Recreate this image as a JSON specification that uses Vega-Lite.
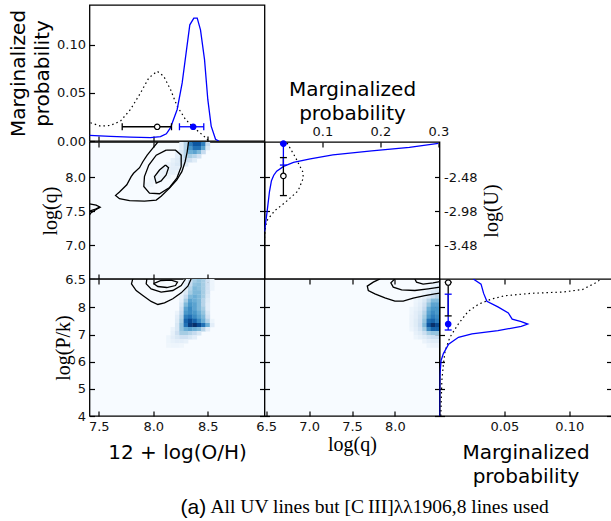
{
 "$schema": "https://vega.github.io/schema/vega-lite/v6.json",
 "background": "white",
 "padding": {"left": 7.5, "top": 4, "right": 0, "bottom": 2},
 "columns": 3,
 "spacing": 0,
 "bounds": "flush",
 "align": "all",
 "datasets": {
  "m_oh": [
   {"oh":7.415,"p":0.0059,"s":"b"},{"oh":7.607,"p":0.0048,"s":"b"},{"oh":7.791,"p":0.0040,"s":"b"},{"oh":7.974,"p":0.0035,"s":"b"},{"oh":8.066,"p":0.0045,"s":"b"},{"oh":8.12,"p":0.0075,"s":"b"},{"oh":8.158,"p":0.0139,"s":"b"},{"oh":8.219,"p":0.0328,"s":"b"},{"oh":8.265,"p":0.0604,"s":"b"},{"oh":8.305,"p":0.095,"s":"b"},{"oh":8.335,"p":0.1208,"s":"b"},{"oh":8.372,"p":0.1277,"s":"b"},{"oh":8.403,"p":0.1277,"s":"b"},{"oh":8.433,"p":0.1156,"s":"b"},{"oh":8.470,"p":0.0846,"s":"b"},{"oh":8.500,"p":0.0432,"s":"b"},{"oh":8.531,"p":0.0155,"s":"b"},{"oh":8.571,"p":0.0018,"s":"b"},{"oh":8.601,"p":0.0,"s":"b"},
   {"oh":7.424,"p":0.019,"s":"k"},{"oh":7.516,"p":0.0155,"s":"k"},{"oh":7.607,"p":0.0162,"s":"k"},{"oh":7.699,"p":0.0207,"s":"k"},{"oh":7.791,"p":0.0328,"s":"k"},{"oh":7.883,"p":0.050,"s":"k"},{"oh":7.959,"p":0.0656,"s":"k"},{"oh":8.036,"p":0.0725,"s":"k"},{"oh":8.096,"p":0.0673,"s":"k"},{"oh":8.158,"p":0.0535,"s":"k"},{"oh":8.219,"p":0.0362,"s":"k"},{"oh":8.295,"p":0.0225,"s":"k"},{"oh":8.372,"p":0.0139,"s":"k"},{"oh":8.463,"p":0.0052,"s":"k"},{"oh":8.509,"p":0.0,"s":"k"}
  ],
  "m_q": [
   {"q":7.2,"p":0,"s":"b"},{"q":7.31,"p":0.0017,"s":"b"},{"q":7.5,"p":0.0046,"s":"b"},{"q":7.79,"p":0.0086,"s":"b"},{"q":7.95,"p":0.012,"s":"b"},{"q":8.03,"p":0.016,"s":"b"},{"q":8.09,"p":0.021,"s":"b"},{"q":8.16,"p":0.033,"s":"b"},{"q":8.22,"p":0.05,"s":"b"},{"q":8.27,"p":0.079,"s":"b"},{"q":8.33,"p":0.118,"s":"b"},{"q":8.39,"p":0.185,"s":"b"},{"q":8.44,"p":0.25,"s":"b"},{"q":8.5,"p":0.30,"s":"b"},
   {"q":7.1,"p":0,"s":"k"},{"q":7.28,"p":0.0017,"s":"k"},{"q":7.38,"p":0.0057,"s":"k"},{"q":7.51,"p":0.018,"s":"k"},{"q":7.63,"p":0.036,"s":"k"},{"q":7.8,"p":0.058,"s":"k"},{"q":7.99,"p":0.067,"s":"k"},{"q":8.08,"p":0.066,"s":"k"},{"q":8.3,"p":0.053,"s":"k"},{"q":8.52,"p":0.038,"s":"k"}
  ],
  "m_pk": [
   {"pk":4.0,"p":0,"s":"b"},{"pk":5.5,"p":0.0003,"s":"b"},{"pk":6.04,"p":0.0012,"s":"b"},{"pk":6.3,"p":0.003,"s":"b"},{"pk":6.65,"p":0.007,"s":"b"},{"pk":6.9,"p":0.0146,"s":"b"},{"pk":7.03,"p":0.025,"s":"b"},{"pk":7.15,"p":0.045,"s":"b"},{"pk":7.3,"p":0.063,"s":"b"},{"pk":7.39,"p":0.068,"s":"b"},{"pk":7.48,"p":0.063,"s":"b"},{"pk":7.57,"p":0.056,"s":"b"},{"pk":7.8,"p":0.053,"s":"b"},{"pk":8.02,"p":0.045,"s":"b"},{"pk":8.23,"p":0.0365,"s":"b"},{"pk":8.52,"p":0.034,"s":"b"},{"pk":8.86,"p":0.032,"s":"b"},{"pk":9.05,"p":0.026,"s":"b"},
   {"pk":4.0,"p":0.001,"s":"k"},{"pk":5.3,"p":0.0018,"s":"k"},{"pk":5.9,"p":0.003,"s":"k"},{"pk":6.4,"p":0.0043,"s":"k"},{"pk":6.9,"p":0.008,"s":"k"},{"pk":7.4,"p":0.0146,"s":"k"},{"pk":7.85,"p":0.022,"s":"k"},{"pk":8.12,"p":0.03,"s":"k"},{"pk":8.31,"p":0.04,"s":"k"},{"pk":8.43,"p":0.05,"s":"k"},{"pk":8.52,"p":0.07,"s":"k"},{"pk":8.57,"p":0.095,"s":"k"},{"pk":8.66,"p":0.11,"s":"k"},{"pk":8.9,"p":0.12,"s":"k"},{"pk":9.03,"p":0.124,"s":"k"}
  ],
  "err": [
   {"pnl":"oh","s":"k","lo":7.715,"mid":8.036,"hi":8.167,"at":0.0148},
   {"pnl":"oh","s":"b","lo":8.24,"mid":8.366,"hi":8.463,"at":0.0148},
   {"pnl":"q","s":"k","lo":7.73,"mid":8.02,"hi":8.29,"at":0.0326},
   {"pnl":"q","s":"b","lo":8.18,"mid":8.496,"hi":8.496,"at":0.0326},
   {"pnl":"pk","s":"k","lo":7.69,"mid":8.92,"hi":8.93,"at":0.0067},
   {"pnl":"pk","s":"b","lo":7.17,"mid":7.39,"hi":8.49,"at":0.0067}
  ],
  "h_ohq": [
   {"oh":8.26,"q":8.49,"v":0.1},{"oh":8.30,"q":8.49,"v":0.3},{"oh":8.34,"q":8.49,"v":0.7},{"oh":8.38,"q":8.49,"v":0.85},{"oh":8.42,"q":8.49,"v":0.85},{"oh":8.46,"q":8.49,"v":0.7},{"oh":8.50,"q":8.49,"v":0.25},
   {"oh":8.26,"q":8.43,"v":0.1},{"oh":8.30,"q":8.43,"v":0.3},{"oh":8.34,"q":8.43,"v":0.6},{"oh":8.38,"q":8.43,"v":0.75},{"oh":8.42,"q":8.43,"v":0.75},{"oh":8.46,"q":8.43,"v":0.55},{"oh":8.50,"q":8.43,"v":0.15},
   {"oh":8.22,"q":8.37,"v":0.08},{"oh":8.26,"q":8.37,"v":0.15},{"oh":8.30,"q":8.37,"v":0.3},{"oh":8.34,"q":8.37,"v":0.5},{"oh":8.38,"q":8.37,"v":0.55},{"oh":8.42,"q":8.37,"v":0.45},{"oh":8.46,"q":8.37,"v":0.25},
   {"oh":8.22,"q":8.31,"v":0.1},{"oh":8.26,"q":8.31,"v":0.15},{"oh":8.30,"q":8.31,"v":0.3},{"oh":8.34,"q":8.31,"v":0.35},{"oh":8.38,"q":8.31,"v":0.3},{"oh":8.42,"q":8.31,"v":0.2},
   {"oh":8.18,"q":8.25,"v":0.08},{"oh":8.22,"q":8.25,"v":0.12},{"oh":8.26,"q":8.25,"v":0.18},{"oh":8.30,"q":8.25,"v":0.22},{"oh":8.34,"q":8.25,"v":0.2},{"oh":8.38,"q":8.25,"v":0.12},
   {"oh":8.14,"q":8.19,"v":0.06},{"oh":8.18,"q":8.19,"v":0.1},{"oh":8.22,"q":8.19,"v":0.14},{"oh":8.26,"q":8.19,"v":0.15},{"oh":8.30,"q":8.19,"v":0.12},
   {"oh":8.10,"q":8.13,"v":0.06},{"oh":8.14,"q":8.13,"v":0.08},{"oh":8.18,"q":8.13,"v":0.1},{"oh":8.22,"q":8.13,"v":0.1},{"oh":8.26,"q":8.13,"v":0.08},
   {"oh":8.06,"q":8.07,"v":0.05},{"oh":8.10,"q":8.07,"v":0.07},{"oh":8.14,"q":8.07,"v":0.08},{"oh":8.18,"q":8.07,"v":0.08},{"oh":8.22,"q":8.07,"v":0.05},
   {"oh":8.02,"q":8.01,"v":0.05},{"oh":8.06,"q":8.01,"v":0.06},{"oh":8.10,"q":8.01,"v":0.06},{"oh":8.14,"q":8.01,"v":0.05},
   {"oh":7.98,"q":7.95,"v":0.04},{"oh":8.02,"q":7.95,"v":0.05},{"oh":8.06,"q":7.95,"v":0.05},
   {"oh":7.94,"q":7.89,"v":0.04},{"oh":7.98,"q":7.89,"v":0.04}
  ],
  "h_ohpk": [
   {"oh":8.30,"pk":9.0,"v":0.05},{"oh":8.34,"pk":9.0,"v":0.2},{"oh":8.38,"pk":9.0,"v":0.35},{"oh":8.42,"pk":9.0,"v":0.4},{"oh":8.46,"pk":9.0,"v":0.35},{"oh":8.50,"pk":9.0,"v":0.2},{"oh":8.54,"pk":9.0,"v":0.05},
   {"oh":8.30,"pk":8.85,"v":0.08},{"oh":8.34,"pk":8.85,"v":0.25},{"oh":8.38,"pk":8.85,"v":0.4},{"oh":8.42,"pk":8.85,"v":0.42},{"oh":8.46,"pk":8.85,"v":0.35},{"oh":8.50,"pk":8.85,"v":0.2},{"oh":8.54,"pk":8.85,"v":0.05},
   {"oh":8.30,"pk":8.7,"v":0.1},{"oh":8.34,"pk":8.7,"v":0.3},{"oh":8.38,"pk":8.7,"v":0.45},{"oh":8.42,"pk":8.7,"v":0.42},{"oh":8.46,"pk":8.7,"v":0.35},{"oh":8.50,"pk":8.7,"v":0.2},{"oh":8.54,"pk":8.7,"v":0.05},
   {"oh":8.26,"pk":8.55,"v":0.05},{"oh":8.30,"pk":8.55,"v":0.15},{"oh":8.34,"pk":8.55,"v":0.35},{"oh":8.38,"pk":8.55,"v":0.45},{"oh":8.42,"pk":8.55,"v":0.45},{"oh":8.46,"pk":8.55,"v":0.35},{"oh":8.50,"pk":8.55,"v":0.18},
   {"oh":8.26,"pk":8.4,"v":0.08},{"oh":8.30,"pk":8.4,"v":0.25},{"oh":8.34,"pk":8.4,"v":0.45},{"oh":8.38,"pk":8.4,"v":0.5},{"oh":8.42,"pk":8.4,"v":0.45},{"oh":8.46,"pk":8.4,"v":0.35},{"oh":8.50,"pk":8.4,"v":0.15},
   {"oh":8.26,"pk":8.25,"v":0.1},{"oh":8.30,"pk":8.25,"v":0.35},{"oh":8.34,"pk":8.25,"v":0.55},{"oh":8.38,"pk":8.25,"v":0.5},{"oh":8.42,"pk":8.25,"v":0.45},{"oh":8.46,"pk":8.25,"v":0.3},{"oh":8.50,"pk":8.25,"v":0.12},
   {"oh":8.26,"pk":8.1,"v":0.15},{"oh":8.30,"pk":8.1,"v":0.45},{"oh":8.34,"pk":8.1,"v":0.6},{"oh":8.38,"pk":8.1,"v":0.55},{"oh":8.42,"pk":8.1,"v":0.45},{"oh":8.46,"pk":8.1,"v":0.3},{"oh":8.50,"pk":8.1,"v":0.1},
   {"oh":8.26,"pk":7.95,"v":0.2},{"oh":8.30,"pk":7.95,"v":0.55},{"oh":8.34,"pk":7.95,"v":0.65},{"oh":8.38,"pk":7.95,"v":0.55},{"oh":8.42,"pk":7.95,"v":0.45},{"oh":8.46,"pk":7.95,"v":0.35},{"oh":8.50,"pk":7.95,"v":0.1},
   {"oh":8.22,"pk":7.8,"v":0.06},{"oh":8.26,"pk":7.8,"v":0.25},{"oh":8.30,"pk":7.8,"v":0.6},{"oh":8.34,"pk":7.8,"v":0.65},{"oh":8.38,"pk":7.8,"v":0.6},{"oh":8.42,"pk":7.8,"v":0.5},{"oh":8.46,"pk":7.8,"v":0.4},{"oh":8.50,"pk":7.8,"v":0.15},
   {"oh":8.22,"pk":7.65,"v":0.1},{"oh":8.26,"pk":7.65,"v":0.3},{"oh":8.30,"pk":7.65,"v":0.7},{"oh":8.34,"pk":7.65,"v":0.75},{"oh":8.38,"pk":7.65,"v":0.65},{"oh":8.42,"pk":7.65,"v":0.55},{"oh":8.46,"pk":7.65,"v":0.45},{"oh":8.50,"pk":7.65,"v":0.2},
   {"oh":8.22,"pk":7.5,"v":0.12},{"oh":8.26,"pk":7.5,"v":0.35},{"oh":8.30,"pk":7.5,"v":0.8},{"oh":8.34,"pk":7.5,"v":0.9},{"oh":8.38,"pk":7.5,"v":0.8},{"oh":8.42,"pk":7.5,"v":0.65},{"oh":8.46,"pk":7.5,"v":0.5},{"oh":8.50,"pk":7.5,"v":0.3},{"oh":8.54,"pk":7.5,"v":0.05},
   {"oh":8.22,"pk":7.35,"v":0.15},{"oh":8.26,"pk":7.35,"v":0.4},{"oh":8.30,"pk":7.35,"v":0.75},{"oh":8.34,"pk":7.35,"v":0.95},{"oh":8.38,"pk":7.35,"v":1.0},{"oh":8.42,"pk":7.35,"v":0.9},{"oh":8.46,"pk":7.35,"v":0.75},{"oh":8.50,"pk":7.35,"v":0.5},{"oh":8.54,"pk":7.35,"v":0.1},
   {"oh":8.18,"pk":7.2,"v":0.06},{"oh":8.22,"pk":7.2,"v":0.15},{"oh":8.26,"pk":7.2,"v":0.4},{"oh":8.30,"pk":7.2,"v":0.5},{"oh":8.34,"pk":7.2,"v":0.55},{"oh":8.38,"pk":7.2,"v":0.5},{"oh":8.42,"pk":7.2,"v":0.45},{"oh":8.46,"pk":7.2,"v":0.3},{"oh":8.50,"pk":7.2,"v":0.1},
   {"oh":8.18,"pk":7.05,"v":0.08},{"oh":8.22,"pk":7.05,"v":0.2},{"oh":8.26,"pk":7.05,"v":0.35},{"oh":8.30,"pk":7.05,"v":0.35},{"oh":8.34,"pk":7.05,"v":0.3},{"oh":8.38,"pk":7.05,"v":0.25},{"oh":8.42,"pk":7.05,"v":0.15},
   {"oh":8.14,"pk":6.9,"v":0.05},{"oh":8.18,"pk":6.9,"v":0.1},{"oh":8.22,"pk":6.9,"v":0.15},{"oh":8.26,"pk":6.9,"v":0.2},{"oh":8.30,"pk":6.9,"v":0.2},{"oh":8.34,"pk":6.9,"v":0.15},{"oh":8.38,"pk":6.9,"v":0.1},
   {"oh":8.14,"pk":6.75,"v":0.05},{"oh":8.18,"pk":6.75,"v":0.08},{"oh":8.22,"pk":6.75,"v":0.1},{"oh":8.26,"pk":6.75,"v":0.1},{"oh":8.30,"pk":6.75,"v":0.08},
   {"oh":8.14,"pk":6.6,"v":0.04},{"oh":8.18,"pk":6.6,"v":0.05},{"oh":8.22,"pk":6.6,"v":0.05},{"oh":8.26,"pk":6.6,"v":0.04}
  ],
  "h_qpk": [
   {"q":8.445,"pk":8.85,"v":0.05},{"q":8.495,"pk":8.85,"v":0.08},
   {"q":8.395,"pk":8.7,"v":0.05},{"q":8.445,"pk":8.7,"v":0.08},{"q":8.495,"pk":8.7,"v":0.12},
   {"q":8.345,"pk":8.55,"v":0.05},{"q":8.395,"pk":8.55,"v":0.08},{"q":8.445,"pk":8.55,"v":0.15},{"q":8.495,"pk":8.55,"v":0.18},
   {"q":8.295,"pk":8.4,"v":0.05},{"q":8.345,"pk":8.4,"v":0.08},{"q":8.395,"pk":8.4,"v":0.15},{"q":8.445,"pk":8.4,"v":0.25},{"q":8.495,"pk":8.4,"v":0.3},
   {"q":8.245,"pk":8.25,"v":0.05},{"q":8.295,"pk":8.25,"v":0.08},{"q":8.345,"pk":8.25,"v":0.15},{"q":8.395,"pk":8.25,"v":0.3},{"q":8.445,"pk":8.25,"v":0.45},{"q":8.495,"pk":8.25,"v":0.45},
   {"q":8.245,"pk":8.1,"v":0.06},{"q":8.295,"pk":8.1,"v":0.1},{"q":8.345,"pk":8.1,"v":0.2},{"q":8.395,"pk":8.1,"v":0.4},{"q":8.445,"pk":8.1,"v":0.55},{"q":8.495,"pk":8.1,"v":0.55},
   {"q":8.195,"pk":7.95,"v":0.05},{"q":8.245,"pk":7.95,"v":0.08},{"q":8.295,"pk":7.95,"v":0.12},{"q":8.345,"pk":7.95,"v":0.25},{"q":8.395,"pk":7.95,"v":0.5},{"q":8.445,"pk":7.95,"v":0.6},{"q":8.495,"pk":7.95,"v":0.6},
   {"q":8.195,"pk":7.8,"v":0.05},{"q":8.245,"pk":7.8,"v":0.1},{"q":8.295,"pk":7.8,"v":0.15},{"q":8.345,"pk":7.8,"v":0.3},{"q":8.395,"pk":7.8,"v":0.55},{"q":8.445,"pk":7.8,"v":0.65},{"q":8.495,"pk":7.8,"v":0.6},
   {"q":8.195,"pk":7.65,"v":0.06},{"q":8.245,"pk":7.65,"v":0.1},{"q":8.295,"pk":7.65,"v":0.18},{"q":8.345,"pk":7.65,"v":0.35},{"q":8.395,"pk":7.65,"v":0.6},{"q":8.445,"pk":7.65,"v":0.7},{"q":8.495,"pk":7.65,"v":0.65},
   {"q":8.195,"pk":7.5,"v":0.06},{"q":8.245,"pk":7.5,"v":0.12},{"q":8.295,"pk":7.5,"v":0.2},{"q":8.345,"pk":7.5,"v":0.4},{"q":8.395,"pk":7.5,"v":0.75},{"q":8.445,"pk":7.5,"v":0.8},{"q":8.495,"pk":7.5,"v":0.7},
   {"q":8.195,"pk":7.35,"v":0.06},{"q":8.245,"pk":7.35,"v":0.12},{"q":8.295,"pk":7.35,"v":0.22},{"q":8.345,"pk":7.35,"v":0.45},{"q":8.395,"pk":7.35,"v":0.85},{"q":8.445,"pk":7.35,"v":1.0},{"q":8.495,"pk":7.35,"v":0.9},
   {"q":8.195,"pk":7.2,"v":0.05},{"q":8.245,"pk":7.2,"v":0.1},{"q":8.295,"pk":7.2,"v":0.18},{"q":8.345,"pk":7.2,"v":0.35},{"q":8.395,"pk":7.2,"v":0.65},{"q":8.445,"pk":7.2,"v":0.8},{"q":8.495,"pk":7.2,"v":0.8},
   {"q":8.245,"pk":7.05,"v":0.08},{"q":8.295,"pk":7.05,"v":0.12},{"q":8.345,"pk":7.05,"v":0.22},{"q":8.395,"pk":7.05,"v":0.35},{"q":8.445,"pk":7.05,"v":0.4},{"q":8.495,"pk":7.05,"v":0.4},
   {"q":8.245,"pk":6.9,"v":0.05},{"q":8.295,"pk":6.9,"v":0.08},{"q":8.345,"pk":6.9,"v":0.12},{"q":8.395,"pk":6.9,"v":0.18},{"q":8.445,"pk":6.9,"v":0.22},{"q":8.495,"pk":6.9,"v":0.22},
   {"q":8.345,"pk":6.75,"v":0.06},{"q":8.395,"pk":6.75,"v":0.1},{"q":8.445,"pk":6.75,"v":0.12},{"q":8.495,"pk":6.75,"v":0.12},
   {"q":8.395,"pk":6.6,"v":0.05},{"q":8.445,"pk":6.6,"v":0.06},{"q":8.495,"pk":6.6,"v":0.06}
  ],
  "c_ohq": [
   {"c":"1","oh":8.042,"q":8.52},{"c":"1","oh":7.992,"q":8.423},{"c":"1","oh":7.944,"q":8.326},{"c":"1","oh":7.904,"q":8.229},{"c":"1","oh":7.874,"q":8.141},{"c":"1","oh":7.819,"q":8.059},{"c":"1","oh":7.797,"q":8.010},{"c":"1","oh":7.757,"q":7.889},{"c":"1","oh":7.690,"q":7.782},{"c":"1","oh":7.654,"q":7.733},{"c":"1","oh":7.690,"q":7.684},{"c":"1","oh":7.782,"q":7.655},{"c":"1","oh":7.919,"q":7.648},{"c":"1","oh":8.027,"q":7.663},{"c":"1","oh":8.072,"q":7.719},{"c":"1","oh":8.149,"q":7.840},{"c":"1","oh":8.216,"q":7.962},{"c":"1","oh":8.262,"q":8.083},{"c":"1","oh":8.292,"q":8.229},{"c":"1","oh":8.311,"q":8.375},{"c":"1","oh":8.323,"q":8.52},
   {"c":"2","oh":8.118,"q":8.399},{"c":"2","oh":8.027,"q":8.326},{"c":"2","oh":7.959,"q":8.180},{"c":"2","oh":7.919,"q":8.010},{"c":"2","oh":7.913,"q":7.864},{"c":"2","oh":7.965,"q":7.767},{"c":"2","oh":8.057,"q":7.757},{"c":"2","oh":8.149,"q":7.850},{"c":"2","oh":8.216,"q":7.986},{"c":"2","oh":8.256,"q":8.156},{"c":"2","oh":8.256,"q":8.326},{"c":"2","oh":8.204,"q":8.399},{"c":"2","oh":8.118,"q":8.399},
   {"c":"3","oh":8.112,"q":8.180},{"c":"3","oh":8.057,"q":8.107},{"c":"3","oh":8.011,"q":8.010},{"c":"3","oh":8.027,"q":7.913},{"c":"3","oh":8.072,"q":7.947},{"c":"3","oh":8.118,"q":8.035},{"c":"3","oh":8.140,"q":8.141},{"c":"3","oh":8.112,"q":8.180},
   {"c":"4","oh":7.415,"q":7.607},{"c":"4","oh":7.476,"q":7.588},{"c":"4","oh":7.513,"q":7.559},{"c":"4","oh":7.476,"q":7.525},{"c":"4","oh":7.430,"q":7.477},{"c":"4","oh":7.415,"q":7.444},
   {"c":"5","oh":7.415,"q":7.50},{"c":"5","oh":7.47,"q":7.53},{"c":"5","oh":7.51,"q":7.56}
  ],
  "c_ohpk": [
   {"c":"1","oh":7.812,"pk":9.055},{"c":"1","oh":7.800,"pk":8.871},{"c":"1","oh":7.843,"pk":8.626},{"c":"1","oh":7.904,"pk":8.442},{"c":"1","oh":7.980,"pk":8.222},{"c":"1","oh":8.042,"pk":8.111},{"c":"1","oh":8.103,"pk":8.173},{"c":"1","oh":8.179,"pk":8.320},{"c":"1","oh":8.256,"pk":8.540},{"c":"1","oh":8.317,"pk":8.786},{"c":"1","oh":8.347,"pk":9.055},
   {"c":"2","oh":7.941,"pk":9.055},{"c":"2","oh":7.935,"pk":8.871},{"c":"2","oh":7.980,"pk":8.687},{"c":"2","oh":8.072,"pk":8.565},{"c":"2","oh":8.179,"pk":8.626},{"c":"2","oh":8.256,"pk":8.810},{"c":"2","oh":8.286,"pk":8.994},{"c":"2","oh":8.295,"pk":9.055},
   {"c":"3","oh":8.002,"pk":8.883},{"c":"3","oh":8.042,"pk":8.773},{"c":"3","oh":8.124,"pk":8.736},{"c":"3","oh":8.204,"pk":8.810},{"c":"3","oh":8.222,"pk":8.933},{"c":"3","oh":8.164,"pk":9.006},{"c":"3","oh":8.072,"pk":8.994},{"c":"3","oh":8.002,"pk":8.883}
  ],
  "c_qpk": [
   {"c":"1","q":7.826,"pk":9.055},{"c":"1","q":7.748,"pk":8.933},{"c":"1","q":7.678,"pk":8.786},{"c":"1","q":7.690,"pk":8.626},{"c":"1","q":7.767,"pk":8.504},{"c":"1","q":7.884,"pk":8.357},{"c":"1","q":8.0,"pk":8.235},{"c":"1","q":8.097,"pk":8.235},{"c":"1","q":8.213,"pk":8.346},{"c":"1","q":8.349,"pk":8.441},{"c":"1","q":8.465,"pk":8.504},{"c":"1","q":8.523,"pk":8.529},
   {"c":"2","q":8.0,"pk":9.055},{"c":"2","q":7.953,"pk":8.908},{"c":"2","q":7.981,"pk":8.750},{"c":"2","q":8.078,"pk":8.651},{"c":"2","q":8.233,"pk":8.626},{"c":"2","q":8.388,"pk":8.688},{"c":"2","q":8.523,"pk":8.750},
   {"c":"3","q":8.233,"pk":9.055},{"c":"3","q":8.252,"pk":8.933},{"c":"3","q":8.329,"pk":8.860},{"c":"3","q":8.445,"pk":8.908},{"c":"3","q":8.523,"pk":8.956}
  ]
 },
 "concat": [
  {
   "width": 175, "height": 136,
   "layer": [
    {"data": {"name": "m_oh"}, "transform": [{"filter": "datum.s == 'k'"}],
     "mark": {"type": "line", "color": "black", "strokeWidth": 1.2, "strokeDash": [1.5, 3], "clip": true},
     "encoding": {
      "x": {"field": "oh", "type": "quantitative", "scale": {"domain": [7.415, 9.02], "nice": false, "zero": false}, "axis": {"orient": "bottom", "values": [7.5, 8, 8.5], "labels": false, "title": null}},
      "y": {"field": "p", "type": "quantitative", "scale": {"domain": [0, 0.1414], "nice": false}, "axis": {"orient": "left", "values": [0, 0.05, 0.1], "format": ".2f", "title": ["Marginalized", "probability"], "titleLineHeight": 24}},
      "order": {"value": null}}},
    {"data": {"name": "m_oh"}, "transform": [{"filter": "datum.s == 'b'"}],
     "mark": {"type": "line", "color": "blue", "strokeWidth": 1.3, "clip": true},
     "encoding": {"x": {"field": "oh", "type": "quantitative", "axis": null}, "y": {"field": "p", "type": "quantitative", "axis": null}, "order": {"value": null}}},
    {"data": {"name": "err"}, "transform": [{"filter": "datum.pnl == 'oh'"}],
     "mark": {"type": "rule", "strokeWidth": 1.3},
     "encoding": {"x": {"field": "lo", "type": "quantitative", "axis": null}, "x2": {"field": "hi"}, "y": {"field": "at", "type": "quantitative", "axis": null},
      "color": {"condition": {"test": "datum.s == 'b'", "value": "blue"}, "value": "black"}}},
    {"data": {"name": "err"}, "transform": [{"filter": "datum.pnl == 'oh'"}, {"fold": ["lo", "hi"], "as": ["end", "val"]}],
     "mark": {"type": "point", "shape": "M0,-1L0,1", "size": 49, "strokeWidth": 1.3, "opacity": 1},
     "encoding": {"x": {"field": "val", "type": "quantitative", "axis": null}, "y": {"field": "at", "type": "quantitative", "axis": null},
      "color": {"condition": {"test": "datum.s == 'b'", "value": "blue"}, "value": "black"}}},
    {"data": {"name": "err"}, "transform": [{"filter": "datum.pnl == 'oh'"}],
     "mark": {"type": "point", "filled": true, "size": 30, "strokeWidth": 1.2, "opacity": 1},
     "encoding": {"x": {"field": "mid", "type": "quantitative", "axis": null}, "y": {"field": "at", "type": "quantitative", "axis": null},
      "fill": {"condition": {"test": "datum.s == 'b'", "value": "blue"}, "value": "white"},
      "stroke": {"condition": {"test": "datum.s == 'b'", "value": "blue"}, "value": "black"}}}
   ],
   "resolve": {"axis": {"x": "independent", "y": "independent"}}
  },
  {"width": 175, "height": 136, "data": {"values": [{"a": 1}]}, "mark": {"type": "point", "opacity": 0}, "encoding": {}, "view": {"stroke": null}},
  {"width": 172, "height": 136, "data": {"values": [{"a": 1}]}, "mark": {"type": "point", "opacity": 0}, "encoding": {}, "view": {"stroke": null}},
  {
   "width": 175, "height": 137,
   "view": {"fill": "#f7fbff", "stroke": "black", "strokeWidth": 1.3},
   "layer": [
    {"data": {"name": "h_ohq"}, "mark": {"type": "rect", "width": 4.7, "height": 4.4, "clip": true},
     "encoding": {
      "x": {"field": "oh", "type": "quantitative", "scale": {"domain": [7.415, 9.02], "nice": false, "zero": false}, "axis": {"orient": "bottom", "values": [7.5, 8, 8.5], "labels": false, "title": null}},
      "y": {"field": "q", "type": "quantitative", "scale": {"domain": [6.5, 8.52], "nice": false, "zero": false}, "axis": {"orient": "left", "values": [6.5, 7, 7.5, 8], "format": ".1f", "title": "log(q)", "titleFont": "Liberation Serif", "titleFontSize": 20}},
      "color": {"field": "v", "type": "quantitative", "legend": null, "scale": {"type": "linear", "domain": [0, 0.125, 0.25, 0.375, 0.5, 0.625, 0.75, 0.875, 1], "range": ["#f7fbff", "#deebf7", "#c6dbef", "#9ecae1", "#6baed6", "#4292c6", "#2171b5", "#08519c", "#08306b"], "interpolate": "rgb", "zero": false, "nice": false}}}},
    {"data": {"name": "c_ohq"}, "mark": {"type": "line", "color": "black", "strokeWidth": 1.3, "clip": true},
     "encoding": {
      "x": {"field": "oh", "type": "quantitative", "axis": {"orient": "top", "values": [7.5, 8, 8.5], "labels": false, "title": null}},
      "y": {"field": "q", "type": "quantitative", "axis": {"orient": "right", "values": [6.5, 7, 7.5, 8], "labels": false, "title": null}},
      "detail": {"field": "c", "type": "nominal"}, "order": {"value": null}}}
   ],
   "resolve": {"axis": {"x": "independent", "y": "independent"}}
  },
  {
   "width": 175, "height": 137,
   "layer": [
    {"data": {"name": "m_q"}, "transform": [{"filter": "datum.s == 'k'"}],
     "mark": {"type": "line", "color": "black", "strokeWidth": 1.2, "strokeDash": [1.5, 3], "clip": true},
     "encoding": {
      "x": {"field": "p", "type": "quantitative", "scale": {"domain": [0, 0.302], "nice": false}, "axis": {"orient": "top", "values": [0.1, 0.2, 0.3], "format": ".1f", "title": ["Marginalized", "probability"], "titleLineHeight": 24, "titlePadding": 2}},
      "y": {"field": "q", "type": "quantitative", "scale": {"domain": [6.5, 8.52], "nice": false, "zero": false}, "axis": {"orient": "left", "values": [7, 7.5, 8], "labels": false, "title": null}},
      "order": {"value": null}}},
    {"data": {"name": "m_q"}, "transform": [{"filter": "datum.s == 'b'"}],
     "mark": {"type": "line", "color": "blue", "strokeWidth": 1.3, "clip": true},
     "encoding": {
      "x": {"field": "p", "type": "quantitative", "axis": null},
      "y": {"field": "q", "type": "quantitative", "axis": {"orient": "right", "values": [7, 7.5, 8], "labelExpr": "replace(format(datum.value - 10.48, '.2f'), '\u2212', '-')", "title": "log(U)", "titleFont": "Liberation Serif", "titleFontSize": 20, "titleAngle": 270, "titleBaseline": "top"}},
      "order": {"value": null}}},
    {"data": {"name": "err"}, "transform": [{"filter": "datum.pnl == 'q'"}],
     "mark": {"type": "rule", "strokeWidth": 1.3},
     "encoding": {"y": {"field": "lo", "type": "quantitative", "axis": null}, "y2": {"field": "hi"}, "x": {"field": "at", "type": "quantitative", "axis": null},
      "color": {"condition": {"test": "datum.s == 'b'", "value": "blue"}, "value": "black"}}},
    {"data": {"name": "err"}, "transform": [{"filter": "datum.pnl == 'q'"}, {"fold": ["lo", "hi"], "as": ["end", "val"]}],
     "mark": {"type": "point", "shape": "M-1,0L1,0", "size": 49, "strokeWidth": 1.3, "opacity": 1},
     "encoding": {"y": {"field": "val", "type": "quantitative", "axis": null}, "x": {"field": "at", "type": "quantitative", "axis": null},
      "color": {"condition": {"test": "datum.s == 'b'", "value": "blue"}, "value": "black"}}},
    {"data": {"name": "err"}, "transform": [{"filter": "datum.pnl == 'q'"}],
     "mark": {"type": "point", "filled": true, "size": 30, "strokeWidth": 1.2, "opacity": 1},
     "encoding": {"y": {"field": "mid", "type": "quantitative", "axis": null}, "x": {"field": "at", "type": "quantitative", "axis": null},
      "fill": {"condition": {"test": "datum.s == 'b'", "value": "blue"}, "value": "white"},
      "stroke": {"condition": {"test": "datum.s == 'b'", "value": "blue"}, "value": "black"}}}
   ],
   "resolve": {"axis": {"x": "independent", "y": "independent"}}
  },
  {"width": 172, "height": 137, "data": {"values": [{"a": 1}]}, "mark": {"type": "point", "opacity": 0}, "encoding": {}, "view": {"stroke": null}},
  {
   "width": 175, "height": 137,
   "view": {"fill": "#f7fbff", "stroke": "black", "strokeWidth": 1.3},
   "layer": [
    {"data": {"name": "h_ohpk"}, "mark": {"type": "rect", "width": 4.7, "height": 4.4, "clip": true},
     "encoding": {
      "x": {"field": "oh", "type": "quantitative", "scale": {"domain": [7.415, 9.02], "nice": false, "zero": false}, "axis": {"orient": "bottom", "values": [7.5, 8, 8.5], "format": ".1f", "title": "12 + log(O/H)", "titlePadding": 9}},
      "y": {"field": "pk", "type": "quantitative", "scale": {"domain": [4, 9.05], "nice": false, "zero": false}, "axis": {"orient": "left", "values": [4, 5, 6, 7, 8], "format": "d", "title": "log(P/k)", "titleFont": "Liberation Serif", "titleFontSize": 20}},
      "color": {"field": "v", "type": "quantitative", "legend": null, "scale": {"type": "linear", "domain": [0, 0.125, 0.25, 0.375, 0.5, 0.625, 0.75, 0.875, 1], "range": ["#f7fbff", "#deebf7", "#c6dbef", "#9ecae1", "#6baed6", "#4292c6", "#2171b5", "#08519c", "#08306b"], "interpolate": "rgb", "zero": false, "nice": false}}}},
    {"data": {"name": "c_ohpk"}, "mark": {"type": "line", "color": "black", "strokeWidth": 1.3, "clip": true},
     "encoding": {
      "x": {"field": "oh", "type": "quantitative", "axis": {"orient": "top", "values": [7.5, 8, 8.5], "labels": false, "title": null}},
      "y": {"field": "pk", "type": "quantitative", "axis": {"orient": "right", "values": [4, 5, 6, 7, 8], "labels": false, "title": null}},
      "detail": {"field": "c", "type": "nominal"}, "order": {"value": null}}}
   ],
   "resolve": {"axis": {"x": "independent", "y": "independent"}}
  },
  {
   "width": 175, "height": 137,
   "view": {"fill": "#f7fbff", "stroke": "black", "strokeWidth": 1.3},
   "layer": [
    {"data": {"name": "h_qpk"}, "mark": {"type": "rect", "width": 4.6, "height": 4.4, "clip": true},
     "encoding": {
      "x": {"field": "q", "type": "quantitative", "scale": {"domain": [6.48, 8.52], "nice": false, "zero": false}, "axis": {"orient": "bottom", "values": [6.5, 7, 7.5, 8], "format": ".1f", "title": "log(q)", "titleFont": "Liberation Serif", "titleFontSize": 20, "titlePadding": 1}},
      "y": {"field": "pk", "type": "quantitative", "scale": {"domain": [4, 9.05], "nice": false, "zero": false}, "axis": {"orient": "left", "values": [4, 5, 6, 7, 8], "labels": false, "title": null}},
      "color": {"field": "v", "type": "quantitative", "legend": null, "scale": {"type": "linear", "domain": [0, 0.125, 0.25, 0.375, 0.5, 0.625, 0.75, 0.875, 1], "range": ["#f7fbff", "#deebf7", "#c6dbef", "#9ecae1", "#6baed6", "#4292c6", "#2171b5", "#08519c", "#08306b"], "interpolate": "rgb", "zero": false, "nice": false}}}},
    {"data": {"name": "c_qpk"}, "mark": {"type": "line", "color": "black", "strokeWidth": 1.3, "clip": true},
     "encoding": {
      "x": {"field": "q", "type": "quantitative", "axis": {"orient": "top", "values": [7, 7.5, 8], "labels": false, "title": null}},
      "y": {"field": "pk", "type": "quantitative", "axis": {"orient": "right", "values": [4, 5, 6, 7, 8], "labels": false, "title": null}},
      "detail": {"field": "c", "type": "nominal"}, "order": {"value": null}}}
   ],
   "resolve": {"axis": {"x": "independent", "y": "independent"}}
  },
  {
   "width": 172, "height": 137,
   "layer": [
    {"data": {"name": "m_pk"}, "transform": [{"filter": "datum.s == 'k'"}],
     "mark": {"type": "line", "color": "black", "strokeWidth": 1.2, "strokeDash": [1.5, 3], "clip": true},
     "encoding": {
      "x": {"field": "p", "type": "quantitative", "scale": {"domain": [0, 0.1325], "nice": false}, "axis": {"orient": "bottom", "values": [0.05, 0.1], "format": ".2f", "title": ["Marginalized", "probability"], "titleLineHeight": 24, "titlePadding": 9}},
      "y": {"field": "pk", "type": "quantitative", "scale": {"domain": [4, 9.05], "nice": false, "zero": false}, "axis": {"orient": "left", "values": [4, 5, 6, 7, 8], "labels": false, "title": null}},
      "order": {"value": null}}},
    {"data": {"name": "m_pk"}, "transform": [{"filter": "datum.s == 'b'"}],
     "mark": {"type": "line", "color": "blue", "strokeWidth": 1.3, "clip": true},
     "encoding": {
      "x": {"field": "p", "type": "quantitative", "axis": {"orient": "top", "values": [0.05, 0.1], "labels": false, "title": null}},
      "y": {"field": "pk", "type": "quantitative", "axis": {"orient": "right", "values": [4, 5, 6, 7, 8], "labels": false, "title": null}},
      "order": {"value": null}}},
    {"data": {"name": "err"}, "transform": [{"filter": "datum.pnl == 'pk'"}],
     "mark": {"type": "rule", "strokeWidth": 1.3},
     "encoding": {"y": {"field": "lo", "type": "quantitative", "axis": null}, "y2": {"field": "hi"}, "x": {"field": "at", "type": "quantitative", "axis": null},
      "color": {"condition": {"test": "datum.s == 'b'", "value": "blue"}, "value": "black"}}},
    {"data": {"name": "err"}, "transform": [{"filter": "datum.pnl == 'pk'"}, {"fold": ["lo", "hi"], "as": ["end", "val"]}],
     "mark": {"type": "point", "shape": "M-1,0L1,0", "size": 49, "strokeWidth": 1.3, "opacity": 1},
     "encoding": {"y": {"field": "val", "type": "quantitative", "axis": null}, "x": {"field": "at", "type": "quantitative", "axis": null},
      "color": {"condition": {"test": "datum.s == 'b'", "value": "blue"}, "value": "black"}}},
    {"data": {"name": "err"}, "transform": [{"filter": "datum.pnl == 'pk'"}],
     "mark": {"type": "point", "filled": true, "size": 30, "strokeWidth": 1.2, "opacity": 1},
     "encoding": {"y": {"field": "mid", "type": "quantitative", "axis": null}, "x": {"field": "at", "type": "quantitative", "axis": null},
      "fill": {"condition": {"test": "datum.s == 'b'", "value": "blue"}, "value": "white"},
      "stroke": {"condition": {"test": "datum.s == 'b'", "value": "blue"}, "value": "black"}}}
   ],
   "resolve": {"axis": {"x": "independent", "y": "independent"}}
  },
  {"width": 175, "height": 1, "data": {"values": [{"a": 1}]}, "mark": {"type": "point", "opacity": 0}, "encoding": {}, "view": {"stroke": null},
   "title": {"text": "(a)", "orient": "bottom", "anchor": "start", "frame": "group", "dx": 91, "offset": 78, "font": "Liberation Sans", "fontSize": 21, "fontWeight": "normal", "color": "black"}},
  {"width": 175, "height": 1, "data": {"values": [{"a": 1}]}, "mark": {"type": "point", "opacity": 0}, "encoding": {}, "view": {"stroke": null},
   "title": {"text": "All UV lines but [C\u2009III]\u03bb\u03bb1906,8 lines used", "orient": "bottom", "anchor": "start", "frame": "group", "dx": -54, "offset": 79, "font": "Liberation Serif", "fontSize": 19.5, "fontWeight": "normal", "color": "black"}}
 ],
 "config": {
  "view": {"stroke": "black", "strokeWidth": 1.3},
  "font": "DejaVu Sans",
  "axis": {"domain": false, "grid": false, "ticks": true, "tickSize": -5, "tickColor": "black", "tickWidth": 1.2, "labelFont": "DejaVu Sans", "labelFontSize": 13, "labelColor": "#111", "labelPadding": 9, "labelFlush": false, "labelOverlap": false, "titleFont": "DejaVu Sans", "titleFontSize": 20, "titleFontWeight": "normal", "titleColor": "black", "titlePadding": 4}
 }
}
